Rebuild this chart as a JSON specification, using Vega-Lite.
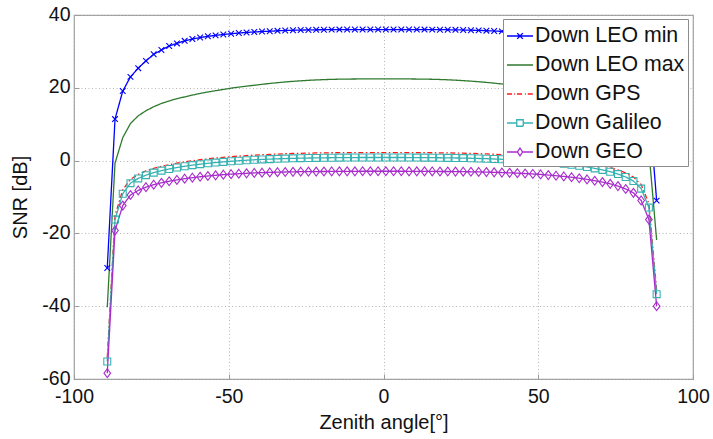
{
  "$schema": "https://vega.github.io/schema/vega-lite/v6.json",
  "width": 619,
  "height": 364,
  "autosize": {"type": "none"},
  "padding": {"left": 74, "top": 15, "right": 20, "bottom": 60},
  "background": "white",
  "config": {
    "font": "Liberation Sans",
    "view": {"stroke": "#9c9c9c", "strokeWidth": 1.2},
    "axis": {
      "domain": false,
      "grid": true,
      "gridColor": "#b4b4b4",
      "gridDash": [1, 2.5],
      "gridWidth": 1,
      "ticks": true,
      "tickSize": -5,
      "tickColor": "#9c9c9c",
      "labelFont": "Liberation Sans",
      "labelFontSize": 19.5,
      "labelColor": "#111111",
      "labelExpr": "replace(datum.label, '−', '-')",
      "titleFont": "Liberation Sans",
      "titleFontSize": 20,
      "titleFontWeight": "normal",
      "titleColor": "#111111",
      "labelFlush": false,
      "labelOverlap": false
    }
  },
  "data": {
    "values": [
      {"x": -89.25, "Down LEO min": -29.5, "Down LEO max": -40.3, "Down GPS": -54.2, "Down Galileo": -55.2, "Down GEO": -58.4},
      {"x": -86.75, "Down LEO min": 11.4, "Down LEO max": -0.7, "Down GPS": -15.1, "Down Galileo": -16.2, "Down GEO": -19.2},
      {"x": -84.25, "Down LEO min": 19.1, "Down LEO max": 6.3, "Down GPS": -8.0, "Down Galileo": -9.1, "Down GEO": -12.35},
      {"x": -81.75, "Down LEO min": 23.0, "Down LEO max": 10.2, "Down GPS": -5.1, "Down Galileo": -6.2, "Down GEO": -9.45},
      {"x": -79.25, "Down LEO min": 25.4, "Down LEO max": 12.3, "Down GPS": -3.8, "Down Galileo": -4.9, "Down GEO": -8.2},
      {"x": -76.75, "Down LEO min": 27.4, "Down LEO max": 13.7, "Down GPS": -2.85, "Down Galileo": -4.0, "Down GEO": -7.3},
      {"x": -74.25, "Down LEO min": 29.2, "Down LEO max": 14.8, "Down GPS": -2.15, "Down Galileo": -3.3, "Down GEO": -6.62},
      {"x": -71.75, "Down LEO min": 30.4, "Down LEO max": 15.7, "Down GPS": -1.58, "Down Galileo": -2.75, "Down GEO": -6.1},
      {"x": -69.25, "Down LEO min": 31.5, "Down LEO max": 16.4, "Down GPS": -1.12, "Down Galileo": -2.3, "Down GEO": -5.67},
      {"x": -66.75, "Down LEO min": 32.2, "Down LEO max": 17.0, "Down GPS": -0.72, "Down Galileo": -1.9, "Down GEO": -5.3},
      {"x": -64.25, "Down LEO min": 32.9, "Down LEO max": 17.5, "Down GPS": -0.36, "Down Galileo": -1.55, "Down GEO": -4.97},
      {"x": -61.75, "Down LEO min": 33.4, "Down LEO max": 18.0, "Down GPS": -0.05, "Down Galileo": -1.25, "Down GEO": -4.69},
      {"x": -59.25, "Down LEO min": 33.8, "Down LEO max": 18.45, "Down GPS": 0.23, "Down Galileo": -0.98, "Down GEO": -4.44},
      {"x": -56.75, "Down LEO min": 34.15, "Down LEO max": 18.85, "Down GPS": 0.47, "Down Galileo": -0.75, "Down GEO": -4.23},
      {"x": -54.25, "Down LEO min": 34.4, "Down LEO max": 19.2, "Down GPS": 0.69, "Down Galileo": -0.54, "Down GEO": -4.04},
      {"x": -51.75, "Down LEO min": 34.65, "Down LEO max": 19.55, "Down GPS": 0.89, "Down Galileo": -0.35, "Down GEO": -3.87},
      {"x": -49.25, "Down LEO min": 34.85, "Down LEO max": 19.9, "Down GPS": 1.07, "Down Galileo": -0.18, "Down GEO": -3.72},
      {"x": -46.75, "Down LEO min": 35.05, "Down LEO max": 20.2, "Down GPS": 1.23, "Down Galileo": -0.03, "Down GEO": -3.6},
      {"x": -44.25, "Down LEO min": 35.2, "Down LEO max": 20.45, "Down GPS": 1.37, "Down Galileo": 0.1, "Down GEO": -3.49},
      {"x": -41.75, "Down LEO min": 35.35, "Down LEO max": 20.7, "Down GPS": 1.5, "Down Galileo": 0.22, "Down GEO": -3.39},
      {"x": -39.25, "Down LEO min": 35.45, "Down LEO max": 20.95, "Down GPS": 1.61, "Down Galileo": 0.32, "Down GEO": -3.31},
      {"x": -36.75, "Down LEO min": 35.55, "Down LEO max": 21.2, "Down GPS": 1.71, "Down Galileo": 0.41, "Down GEO": -3.24},
      {"x": -34.25, "Down LEO min": 35.65, "Down LEO max": 21.4, "Down GPS": 1.8, "Down Galileo": 0.49, "Down GEO": -3.18},
      {"x": -31.75, "Down LEO min": 35.75, "Down LEO max": 21.6, "Down GPS": 1.88, "Down Galileo": 0.56, "Down GEO": -3.13},
      {"x": -29.25, "Down LEO min": 35.8, "Down LEO max": 21.77, "Down GPS": 1.95, "Down Galileo": 0.62, "Down GEO": -3.08},
      {"x": -26.75, "Down LEO min": 35.86, "Down LEO max": 21.92, "Down GPS": 2.01, "Down Galileo": 0.67, "Down GEO": -3.05},
      {"x": -24.25, "Down LEO min": 35.9, "Down LEO max": 22.05, "Down GPS": 2.06, "Down Galileo": 0.71, "Down GEO": -3.02},
      {"x": -21.75, "Down LEO min": 35.94, "Down LEO max": 22.16, "Down GPS": 2.1, "Down Galileo": 0.74, "Down GEO": -3.01},
      {"x": -19.25, "Down LEO min": 35.96, "Down LEO max": 22.25, "Down GPS": 2.13, "Down Galileo": 0.77, "Down GEO": -2.99},
      {"x": -16.75, "Down LEO min": 35.98, "Down LEO max": 22.32, "Down GPS": 2.15, "Down Galileo": 0.79, "Down GEO": -2.98},
      {"x": -14.25, "Down LEO min": 35.99, "Down LEO max": 22.37, "Down GPS": 2.17, "Down Galileo": 0.81, "Down GEO": -2.96},
      {"x": -11.75, "Down LEO min": 36.0, "Down LEO max": 22.4, "Down GPS": 2.19, "Down Galileo": 0.83, "Down GEO": -2.95},
      {"x": -9.25, "Down LEO min": 36.0, "Down LEO max": 22.42, "Down GPS": 2.2, "Down Galileo": 0.84, "Down GEO": -2.94},
      {"x": -6.75, "Down LEO min": 36.0, "Down LEO max": 22.44, "Down GPS": 2.2, "Down Galileo": 0.85, "Down GEO": -2.93},
      {"x": -4.25, "Down LEO min": 36.0, "Down LEO max": 22.45, "Down GPS": 2.2, "Down Galileo": 0.85, "Down GEO": -2.93},
      {"x": -1.75, "Down LEO min": 36.0, "Down LEO max": 22.45, "Down GPS": 2.2, "Down Galileo": 0.85, "Down GEO": -2.92},
      {"x": 0.75, "Down LEO min": 36.0, "Down LEO max": 22.45, "Down GPS": 2.2, "Down Galileo": 0.85, "Down GEO": -2.92},
      {"x": 3.25, "Down LEO min": 36.0, "Down LEO max": 22.45, "Down GPS": 2.2, "Down Galileo": 0.85, "Down GEO": -2.92},
      {"x": 5.75, "Down LEO min": 36.0, "Down LEO max": 22.44, "Down GPS": 2.2, "Down Galileo": 0.85, "Down GEO": -2.93},
      {"x": 8.25, "Down LEO min": 36.0, "Down LEO max": 22.43, "Down GPS": 2.2, "Down Galileo": 0.84, "Down GEO": -2.94},
      {"x": 10.75, "Down LEO min": 36.0, "Down LEO max": 22.41, "Down GPS": 2.19, "Down Galileo": 0.83, "Down GEO": -2.95},
      {"x": 13.25, "Down LEO min": 35.99, "Down LEO max": 22.38, "Down GPS": 2.18, "Down Galileo": 0.82, "Down GEO": -2.96},
      {"x": 15.75, "Down LEO min": 35.98, "Down LEO max": 22.34, "Down GPS": 2.16, "Down Galileo": 0.8, "Down GEO": -2.97},
      {"x": 18.25, "Down LEO min": 35.97, "Down LEO max": 22.28, "Down GPS": 2.14, "Down Galileo": 0.78, "Down GEO": -2.99},
      {"x": 20.75, "Down LEO min": 35.95, "Down LEO max": 22.2, "Down GPS": 2.11, "Down Galileo": 0.75, "Down GEO": -3.0},
      {"x": 23.25, "Down LEO min": 35.92, "Down LEO max": 22.1, "Down GPS": 2.07, "Down Galileo": 0.72, "Down GEO": -3.02},
      {"x": 25.75, "Down LEO min": 35.88, "Down LEO max": 21.97, "Down GPS": 2.03, "Down Galileo": 0.69, "Down GEO": -3.04},
      {"x": 28.25, "Down LEO min": 35.83, "Down LEO max": 21.83, "Down GPS": 1.97, "Down Galileo": 0.64, "Down GEO": -3.07},
      {"x": 30.75, "Down LEO min": 35.78, "Down LEO max": 21.67, "Down GPS": 1.9, "Down Galileo": 0.58, "Down GEO": -3.11},
      {"x": 33.25, "Down LEO min": 35.7, "Down LEO max": 21.48, "Down GPS": 1.83, "Down Galileo": 0.52, "Down GEO": -3.16},
      {"x": 35.75, "Down LEO min": 35.6, "Down LEO max": 21.28, "Down GPS": 1.74, "Down Galileo": 0.44, "Down GEO": -3.22},
      {"x": 38.25, "Down LEO min": 35.5, "Down LEO max": 21.05, "Down GPS": 1.65, "Down Galileo": 0.36, "Down GEO": -3.28},
      {"x": 40.75, "Down LEO min": 35.4, "Down LEO max": 20.8, "Down GPS": 1.54, "Down Galileo": 0.26, "Down GEO": -3.36},
      {"x": 43.25, "Down LEO min": 35.25, "Down LEO max": 20.55, "Down GPS": 1.42, "Down Galileo": 0.15, "Down GEO": -3.45},
      {"x": 45.75, "Down LEO min": 35.1, "Down LEO max": 20.3, "Down GPS": 1.29, "Down Galileo": 0.03, "Down GEO": -3.55},
      {"x": 48.25, "Down LEO min": 34.95, "Down LEO max": 20.0, "Down GPS": 1.13, "Down Galileo": -0.12, "Down GEO": -3.67},
      {"x": 50.75, "Down LEO min": 34.75, "Down LEO max": 19.7, "Down GPS": 0.96, "Down Galileo": -0.28, "Down GEO": -3.81},
      {"x": 53.25, "Down LEO min": 34.5, "Down LEO max": 19.35, "Down GPS": 0.77, "Down Galileo": -0.46, "Down GEO": -3.97},
      {"x": 55.75, "Down LEO min": 34.25, "Down LEO max": 19.0, "Down GPS": 0.56, "Down Galileo": -0.66, "Down GEO": -4.15},
      {"x": 58.25, "Down LEO min": 33.95, "Down LEO max": 18.6, "Down GPS": 0.33, "Down Galileo": -0.88, "Down GEO": -4.35},
      {"x": 60.75, "Down LEO min": 33.6, "Down LEO max": 18.2, "Down GPS": 0.07, "Down Galileo": -1.13, "Down GEO": -4.58},
      {"x": 63.25, "Down LEO min": 33.1, "Down LEO max": 17.7, "Down GPS": -0.23, "Down Galileo": -1.42, "Down GEO": -4.85},
      {"x": 65.75, "Down LEO min": 32.5, "Down LEO max": 17.2, "Down GPS": -0.57, "Down Galileo": -1.75, "Down GEO": -5.16},
      {"x": 68.25, "Down LEO min": 31.8, "Down LEO max": 16.65, "Down GPS": -0.97, "Down Galileo": -2.15, "Down GEO": -5.53},
      {"x": 70.75, "Down LEO min": 30.9, "Down LEO max": 16.0, "Down GPS": -1.38, "Down Galileo": -2.55, "Down GEO": -5.91},
      {"x": 73.25, "Down LEO min": 29.7, "Down LEO max": 15.2, "Down GPS": -1.9, "Down Galileo": -3.05, "Down GEO": -6.38},
      {"x": 75.75, "Down LEO min": 28.1, "Down LEO max": 14.2, "Down GPS": -2.55, "Down Galileo": -3.7, "Down GEO": -7.0},
      {"x": 78.25, "Down LEO min": 26.3, "Down LEO max": 12.9, "Down GPS": -3.4, "Down Galileo": -4.5, "Down GEO": -7.8},
      {"x": 80.75, "Down LEO min": 24.0, "Down LEO max": 11.2, "Down GPS": -4.5, "Down Galileo": -5.6, "Down GEO": -8.85},
      {"x": 83.25, "Down LEO min": 20.9, "Down LEO max": 8.2, "Down GPS": -6.6, "Down Galileo": -7.7, "Down GEO": -10.95},
      {"x": 85.75, "Down LEO min": 15.6, "Down LEO max": 2.6, "Down GPS": -11.8, "Down Galileo": -12.9, "Down GEO": -16.2},
      {"x": 88.25, "Down LEO min": -11.0, "Down LEO max": -21.8, "Down GPS": -35.6, "Down Galileo": -36.7, "Down GEO": -40.0}
    ]
  },
  "transform": [
    {"fold": ["Down LEO min", "Down LEO max", "Down GPS", "Down Galileo", "Down GEO"], "as": ["series", "snr"]}
  ],
  "encoding": {
    "x": {
      "field": "x",
      "type": "quantitative",
      "scale": {"domain": [-100, 100], "nice": false, "zero": false},
      "axis": {"values": [-100, -50, 0, 50, 100], "title": "Zenith angle[°]", "labelPadding": 13, "titlePadding": 7}
    },
    "y": {
      "field": "snr",
      "type": "quantitative",
      "scale": {"domain": [-60, 40], "nice": false, "zero": false},
      "axis": {"values": [-60, -40, -20, 0, 20, 40], "title": "SNR [dB]", "labelPadding": 9, "titlePadding": 11, "labelOffset": -1}
    },
    "color": {
      "field": "series",
      "type": "nominal",
      "scale": {
        "domain": ["Down LEO min", "Down LEO max", "Down GPS", "Down Galileo", "Down GEO"],
        "range": ["#0000ff", "#2f7a2f", "#ff1a1a", "#36b2b2", "#a82ccc"]
      },
      "legend": {
        "title": null,
        "orient": "none",
        "legendX": 429,
        "legendY": 4,
        "fillColor": "white",
        "strokeColor": "#8c8c8c",
        "padding": 3,
        "rowPadding": 4,
        "labelFont": "Liberation Sans",
        "labelFontSize": 21.3,
        "labelColor": "#111111",
        "labelOffset": 1,
        "labelLimit": 300,
        "symbolSize": 676,
        "symbolStrokeWidth": 1.3,
        "encode": {
          "symbols": {
            "update": {
              "shape": {"signal": "datum.value == 'Down LEO min' ? 'M-1,0H1M-0.22,-0.22L0.22,0.22M-0.22,0.22L0.22,-0.22' : datum.value == 'Down GPS' ? 'M-1,0H-0.6M-0.45,0H-0.38M-0.23,0H0.23M0.38,0H0.45M0.6,0H1' : datum.value == 'Down Galileo' ? 'M-1,0H-0.25M0.25,0H1M-0.25,-0.25H0.25V0.25H-0.25Z' : datum.value == 'Down GEO' ? 'M-1,0H-0.2M0.2,0H1M0,-0.3L0.2,0L0,0.3L-0.2,0Z' : 'M-1,0H1'"},
              "fill": {"value": "transparent"},
              "strokeWidth": {"value": 1.3}
            }
          }
        }
      }
    }
  },
  "layer": [
    {
      "mark": {"type": "line", "strokeWidth": 1.3},
      "encoding": {
        "strokeDash": {
          "field": "series",
          "type": "nominal",
          "scale": {
            "domain": ["Down LEO min", "Down LEO max", "Down GPS", "Down Galileo", "Down GEO"],
            "range": [[1, 0], [1, 0], [5, 2.5, 1.5, 2.5], [1, 0], [1, 0]]
          },
          "legend": null
        }
      }
    },
    {
      "transform": [{"filter": {"field": "series", "oneOf": ["Down LEO min", "Down Galileo", "Down GEO"]}}],
      "mark": {"type": "point", "filled": false, "strokeWidth": 1.1, "opacity": 1, "size": 40},
      "encoding": {
        "shape": {
          "field": "series",
          "type": "nominal",
          "scale": {
            "domain": ["Down LEO min", "Down Galileo", "Down GEO"],
            "range": ["M-0.9,-0.9L0.9,0.9M-0.9,0.9L0.9,-0.9", "M-1.1,-1.1H1.1V1.1H-1.1Z", "M0,-1.4L1.05,0L0,1.4L-1.05,0Z"]
          },
          "legend": null
        }
      }
    }
  ]
}
